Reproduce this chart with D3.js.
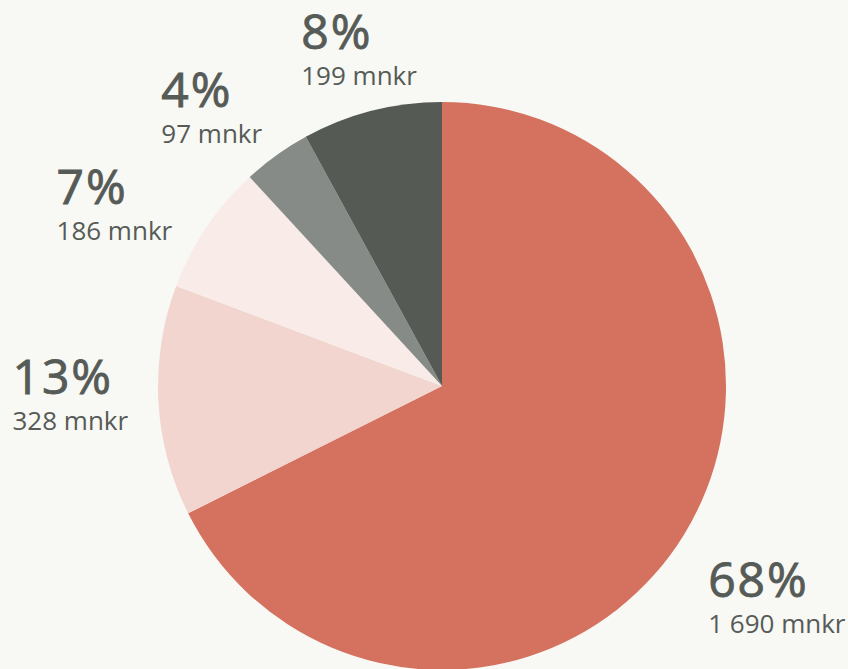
<!DOCTYPE html>
<html>
<head>
<meta charset="utf-8">
<script src="https://cdn.jsdelivr.net/npm/d3@7"></script>
<style>
  html, body { margin: 0; padding: 0; background: #f8f8f4; }
  svg { display: block; }
  text { font-family: "Open Sans", sans-serif; fill: #565b57; }
</style>
</head>
<body>
<div id="chartContainer"></div>
<script>
var labels = ['1 690 mnkr', '328 mnkr', '186 mnkr', '97 mnkr', '199 mnkr']
var values = [1690, 328, 186, 97, 199]
var percents = ['68%', '13%', '7%', '4%', '8%']
var colors = ['#d5725f', '#f2d5ce', '#f8ebe8', '#878b87', '#555a55']

var width = 848, height = 669
var cx = 442, cy = 386, radius = 284

var svg = d3.select('#chartContainer').append('svg')
    .attr('width', width)
    .attr('height', height)

var pie = d3.pie().sort(null).value(function(d) { return d })
var arc = d3.arc().innerRadius(0).outerRadius(radius)

var arcs = pie(values)

var g = svg.append('g')
    .attr("transform", "translate(" + cx + "," + cy + ")")

g.selectAll('path')
    .data(arcs)
    .enter().append('path')
    .attr('d', arc)
    .style('fill', function(d, i) { return colors[i] })

// label layout: distance from centre and small angle nudge (degrees)
var labelR = [338, 314, 322, 320, 310]
var labelNudge = [2.9, 1.5, -3.6, -2.8, 1.3]
var blockH = 70

arcs.forEach(function(d, i) {
    var a = (d.startAngle + d.endAngle) / 2 + labelNudge[i] * Math.PI / 180
    var dx = Math.sin(a), dy = -Math.cos(a)
    var px = cx + labelR[i] * dx
    var py = cy + labelR[i] * dy

    var lg = svg.append('g')
    var t1 = lg.append('text')
        .attr('x', 0).attr('y', 34)
        .style('font-size', '48px')
        .style('letter-spacing', '2px')
        .style('stroke', '#565b57')
        .style('stroke-width', '0.9px')
        .text(percents[i])
    var t2 = lg.append('text')
        .attr('x', 0).attr('y', 70)
        .style('font-size', '26px')
        .text(labels[i])

    var w = Math.max(t1.node().getComputedTextLength(), t2.node().getComputedTextLength())
    var left = px - w * (1 - dx) / 2
    var top = py - blockH * (1 - dy) / 2
    lg.attr('transform', 'translate(' + left + ',' + top + ')')
})
</script>
</body>
</html>
